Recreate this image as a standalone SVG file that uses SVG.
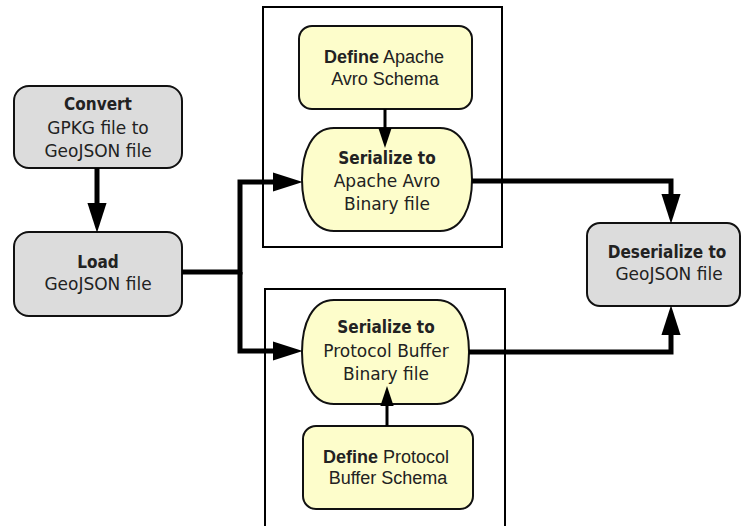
<svg xmlns="http://www.w3.org/2000/svg" width="742" height="526" viewBox="0 0 742 526">
<style>
.grey{fill:#dcdcdc;stroke:#111;stroke-width:2}
.yel{fill:#fdfdcb;stroke:#111;stroke-width:2}
.cont{fill:none;stroke:#000;stroke-width:2}
.thick{fill:none;stroke:#000;stroke-width:5}
.thin{fill:none;stroke:#000;stroke-width:3}
text{font-size:17px;fill:#222;text-anchor:middle}
.dv{font-family:"DejaVu Sans",sans-serif}
.ls{font-family:"Liberation Sans",Arial,sans-serif;font-size:18px}
.b{font-weight:bold}
.dv.b{font-family:"DejaVu Sans Condensed","DejaVu Sans",sans-serif;font-size:17px}
</style>
<defs>
<marker id="ah" markerUnits="userSpaceOnUse" markerWidth="30" markerHeight="20" viewBox="0 0 28 18" refX="18" refY="9" orient="auto">
<path d="M0,0 L28,9 L0,18 Z" fill="#000"/>
</marker>
<marker id="ahs" markerUnits="userSpaceOnUse" markerWidth="20" markerHeight="14" viewBox="0 0 18 12" refX="10" refY="6" orient="auto">
<path d="M0,0 L18,6 L0,12 Z" fill="#000"/>
</marker>
</defs>
<g id="containers">
<rect class="cont" x="263" y="7" width="239" height="240"/>
<rect class="cont" x="265" y="289" width="240" height="250"/>
</g>
<g id="convert">
<rect class="grey" x="14" y="86" width="168" height="82" rx="15"/>
<text class="dv b" x="98" y="110">Convert</text>
<text class="dv" x="98" y="134">GPKG file to</text>
<text class="dv" x="98" y="157">GeoJSON file</text>
</g>
<g id="load">
<rect class="grey" x="14" y="232" width="168" height="84" rx="15"/>
<text class="dv b" x="98" y="268">Load</text>
<text class="dv" x="98" y="290">GeoJSON file</text>
</g>
<g id="define-avro">
<rect class="yel" x="299" y="26" width="173" height="83" rx="13"/>
<text class="ls" x="384" y="63"><tspan class="b">Define</tspan> Apache</text>
<text class="ls" x="385" y="85">Avro Schema</text>
</g>
<g id="serialize-avro">
<path class="yel" d="M334,128 H440 C462,128 472,152 472,179.5 C472,207 462,231 440,231 H334 C312,231 302,207 302,179.5 C302,152 312,128 334,128 Z"/>
<text class="dv b" x="387" y="164">Serialize to</text>
<text class="dv" x="387" y="187">Apache Avro</text>
<text class="dv" x="387" y="210">Binary file</text>
</g>
<g id="serialize-pb">
<path class="yel" d="M334,300 H437 C459,300 469,324 469,352 C469,380 459,404 437,404 H334 C312,404 302,380 302,352 C302,324 312,300 334,300 Z"/>
<text class="dv b" x="386" y="333">Serialize to</text>
<text class="dv" x="386" y="357">Protocol Buffer</text>
<text class="dv" x="386" y="380">Binary file</text>
</g>
<g id="define-pb">
<rect class="yel" x="303" y="426" width="170" height="83" rx="13"/>
<text class="ls" x="386" y="463"><tspan class="b">Define</tspan> Protocol</text>
<text class="ls" x="388" y="484">Buffer Schema</text>
</g>
<g id="deserialize">
<rect class="grey" x="587" y="223" width="153" height="83" rx="13"/>
<text class="dv b" x="667" y="258">Deserialize to</text>
<text class="dv" x="669" y="280">GeoJSON file</text>
</g>
<g id="connectors">
<path class="thick" d="M97,168 V222" marker-end="url(#ah)"/>
<path class="thick" d="M182,272 H240 V182 H292" marker-end="url(#ah)"/>
<path class="thick" d="M240,272 V351 H292" marker-end="url(#ah)"/>
<path class="thick" d="M472,181 H671 V213" marker-end="url(#ah)"/>
<path class="thick" d="M469,352 H671 V316" marker-end="url(#ah)"/>
<path class="thin" d="M385,109 V139" marker-end="url(#ahs)"/>
<path class="thin" d="M387,426 V395" marker-end="url(#ahs)"/>
</g>
</svg>
